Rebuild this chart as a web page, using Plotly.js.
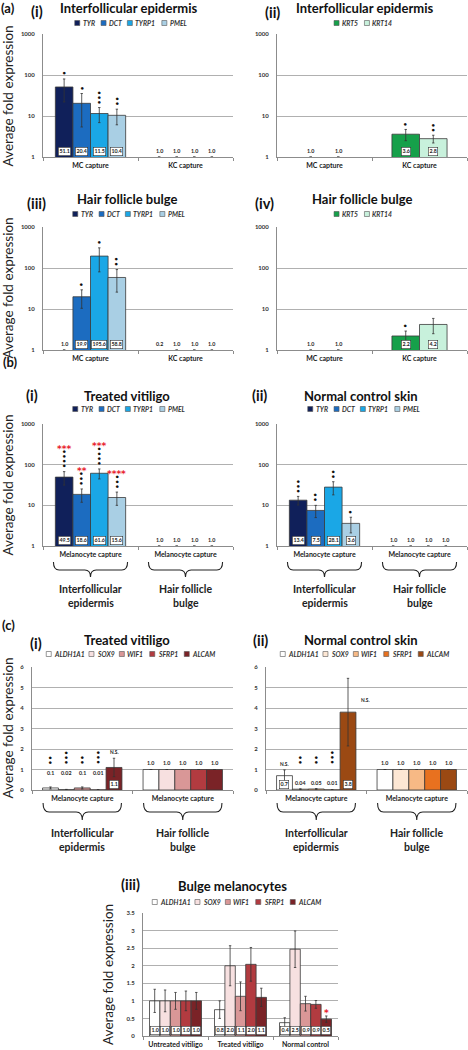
<!DOCTYPE html>
<html><head><meta charset="utf-8">
<script src="https://cdn.plot.ly/plotly-3.0.1.min.js"></script>
<style>html,body{margin:0;padding:0;background:#fff}</style>
</head><body><div id="chart" style="width:468px;height:1050px"></div>
<script>
// ================= DATA =================
const melanocyteGenes = ['TYR','DCT','TYRP1','PMEL'];
const keratinocyteGenes = ['KRT5','KRT14'];
const stemGenes = ['ALDH1A1','SOX9','WIF1','SFRP1','ALCAM'];
const captureTypes = ['MC capture','KC capture'];
const melCaptureCats = ['Melanocyte capture','Melanocyte capture'];
const skinSites = [['Interfollicular','epidermis'],['Hair follicle','bulge']];
const bulgeGroups = ['Untreated vitiligo','Treated vitiligo','Normal control'];

// (a)(i) Interfollicular epidermis – melanocyte genes [MC, KC]
const a1Values = [[51.1,1.0],[20.4,1.0],[11.5,1.0],[10.4,1.0]];
const a1Errors = [[29,0],[15,0],[4.6,0],[4.3,0]];
const a1Labels = [['51.1','1.0'],['20.4','1.0'],['11.5','1.0'],['10.4','1.0']];
const a1Marks  = [[1,0],[1,0],[3,0],[2,0]];
// (a)(ii) Interfollicular epidermis – keratinocyte genes
const a2Values = [[1.0,3.6],[1.0,2.8]];
const a2Errors = [[0,1.1],[0,0.6]];
const a2Labels = [['1.0','3.6'],['1.0','2.8']];
const a2Marks  = [[0,1],[0,2]];
// (a)(iii) Hair follicle bulge – melanocyte genes
const a3Values = [[1.0,0.2],[19.9,1.0],[195.6,1.0],[58.8,1.0]];
const a3Errors = [[0,0],[9.5,0],[115,0],[33,0]];
const a3Labels = [['1.0','0.2'],['19.9','1.0'],['195.6','1.0'],['58.8','1.0']];
const a3Marks  = [[0,0],[1,0],[1,0],[2,0]];
// (a)(iv) Hair follicle bulge – keratinocyte genes
const a4Values = [[1.0,2.2],[1.0,4.2]];
const a4Errors = [[0,0.7],[0,1.7]];
const a4Labels = [['1.0','2.2'],['1.0','4.2']];
const a4Marks  = [[0,1],[0,0]];
// (b)(i) Treated vitiligo
const b1Values = [[49.5,1.0],[18.6,1.0],[61.6,1.0],[15.6,1.0]];
const b1Errors = [[18,0],[6.7,0],[17,0],[5.6,0]];
const b1Labels = [['49.5','1.0'],['18.6','1.0'],['61.6','1.0'],['15.6','1.0']];
const b1Marks  = [[4,0],[3,0],[4,0],[3,0]];
const b1RedMarks = [['***',''],['**',''],['***',''],['****','']];
// (b)(ii) Normal control skin
const b2Values = [[13.4,1.0],[7.5,1.0],[28.1,1.0],[3.6,1.0]];
const b2Errors = [[3.2,0],[2.5,0],[10,0],[1.5,0]];
const b2Labels = [['13.4','1.0'],['7.5','1.0'],['28.1','1.0'],['3.6','1.0']];
const b2Marks  = [[3,0],[2,0],[2,0],[1,0]];
// (c)(i) Treated vitiligo – stem cell markers
const c1Values = [[0.1,1.0],[0.02,1.0],[0.1,1.0],[0.01,1.0],[1.1,1.0]];
const c1Errors = [[0.05,0],[0.01,0],[0.05,0],[0.005,0],[0.45,0]];
const c1Labels = [['0.1','1.0'],['0.02','1.0'],['0.1','1.0'],['0.01','1.0'],['1.1','1.0']];
const c1Marks  = [[2,0],[3,0],[2,0],[3,0],['N.S.',0]];
// (c)(ii) Normal control skin – stem cell markers
const c2Values = [[0.7,1.0],[0.04,1.0],[0.05,1.0],[0.01,1.0],[3.8,1.0]];
const c2Errors = [[0.28,0],[0.02,0],[0.02,0],[0.005,0],[1.65,0]];
const c2Labels = [['0.7','1.0'],['0.04','1.0'],['0.05','1.0'],['0.01','1.0'],['3.8','1.0']];
const c2Marks  = [['N.S.',0],[2,0],[2,0],[3,0],['N.S.',0]];
// (c)(iii) Bulge melanocytes [untreated, treated, normal]
const c3Values = [[1.0,0.75,0.38],[1.0,2.0,2.47],[1.0,1.13,0.92],[1.0,2.04,0.9],[1.0,1.1,0.48]];
const c3Errors = [[0.33,0.25,0.14],[0.31,0.57,0.52],[0.24,0.41,0.21],[0.28,0.48,0.11],[0.24,0.26,0.09]];
const c3Labels = [['1.0','0.8','0.4'],['1.0','2.0','2.5'],['1.0','1.1','0.9'],['1.0','2.0','0.9'],['1.0','1.1','0.5']];
const c3RedMarks = [['','',''],['','',''],['','',''],['','',''],['','','*']];

// ================= STYLE =================
const BLUES = ['#10205a','#1c6cc0','#1aa7e6','#a9cfe4'];
const GREENS = ['#16a04a','#c8f1dc'];
const REDS = ['#ffffff','#f7e0e0','#d99797','#b23b40','#7a2327'];
const ORANGES = ['#ffffff','#fde7d4','#f7b985','#e8711f','#9b4913'];
const W = 468, H = 1050;
const FONT = 'Lato, "Open Sans", sans-serif';
const DOTFONT = '"DejaVu Sans", sans-serif';
const px = x => x / W, py = y => 1 - y / H;

const panels = [
 {id:1, x:[43,233], y:[34,157], log:true, genes:melanocyteGenes, cats:captureTypes, v:a1Values, e:a1Errors, l:a1Labels, m:a1Marks, colors:BLUES, gap:0.26,
  tag:['(a)',8,8], sub:['(i)',37,11], title:['Interfollicular epidermis',128,8], legend:[130,23], ytitle:[7.5,96]},
 {id:2, x:[277,467], y:[34,157], log:true, genes:keratinocyteGenes, cats:captureTypes, v:a2Values, e:a2Errors, l:a2Labels, m:a2Marks, colors:GREENS, gap:0.42,
  sub:['(ii)',272,12], title:['Interfollicular epidermis',364,8], legend:[363,23]},
 {id:3, x:[43,233], y:[227,350], log:true, genes:melanocyteGenes, cats:captureTypes, v:a3Values, e:a3Errors, l:a3Labels, m:a3Marks, colors:BLUES, gap:0.26,
  sub:['(iii)',36,203], title:['Hair follicle bulge',127,199], legend:[128,214], ytitle:[7.5,288]},
 {id:4, x:[277,467], y:[227,350], log:true, genes:keratinocyteGenes, cats:captureTypes, v:a4Values, e:a4Errors, l:a4Labels, m:a4Marks, colors:GREENS, gap:0.42,
  sub:['(iv)',264,203], title:['Hair follicle bulge',362,199], legend:[363,214]},
 {id:5, x:[43,233], y:[424,546], log:true, genes:melanocyteGenes, cats:melCaptureCats, v:b1Values, e:b1Errors, l:b1Labels, m:b1Marks, red:b1RedMarks, colors:BLUES, gap:0.26,
  tag:['(b)',10,362], sub:['(i)',32,395], title:['Treated vitiligo',127,396], legend:[128,409], ytitle:[7.5,485], brace:[562,570,577,589,603]},
 {id:6, x:[277,467], y:[424,546], log:true, genes:melanocyteGenes, cats:melCaptureCats, v:b2Values, e:b2Errors, l:b2Labels, m:b2Marks, colors:BLUES, gap:0.26,
  sub:['(ii)',259,395], title:['Normal control skin',361,396], legend:[363,409], brace:[562,570,577,589,603]},
 {id:7, x:[32,233], y:[667,790], log:false, ymax:6, dtick:1, genes:stemGenes, cats:melCaptureCats, v:c1Values, e:c1Errors, l:c1Labels, m:c1Marks, colors:REDS, gap:0.21,
  stem:true, smallY:0.6, markFloor:1.1, tag:['(c)',8,625], sub:['(i)',36,643], title:['Treated vitiligo',127,640], legend:[129,654], ytitle:[7.5,728], brace:[803,812,820,833,847]},
 {id:8, x:[266,467], y:[667,790], log:false, ymax:6, dtick:1, genes:stemGenes, cats:melCaptureCats, v:c2Values, e:c2Errors, l:c2Labels, m:c2Marks, colors:ORANGES, gap:0.21,
  stem:true, smallY:0.08, markFloor:1.1, nsSide:[4,0], sub:['(ii)',260,640], title:['Normal control skin',361,640], legend:[363,654], brace:[803,812,820,833,847]},
 {id:9, x:[143,338], y:[913,1036], log:false, ymax:3.5, dtick:0.5, genes:stemGenes, cats:bulgeGroups, v:c3Values, e:c3Errors, l:c3Labels, red:c3RedMarks, colors:REDS, gap:0.2,
  inbar:true, sub:['(iii)',130,884], title:['Bulge melanocytes',232,886], legend:[235,902], ytitle:[108,975]}
];

const data = [], annotations = [], shapes = [];
const layout = {width:W, height:H, margin:{l:0,r:0,t:0,b:0}, paper_bgcolor:'#fff', plot_bgcolor:'#fff',
  showlegend:false, barmode:'overlay', annotations, shapes, font:{family:FONT}};

function ann(o){ annotations.push(Object.assign({showarrow:false, borderpad:1}, o)); }
function pann(text, x, y, size, extra){ ann(Object.assign({xref:'paper', yref:'paper', x:px(x), y:py(y), xanchor:'center', yanchor:'middle', text, font:{family:FONT, size, color:'#111'}}, extra||{})); }

function addLegend(cx, cy, genes, colors){
  const cw = 4.1, sw = 5, sg = 2, ig = 7;
  const widths = genes.map(g => sw + sg + g.length * cw);
  const total = widths.reduce((a,b)=>a+b,0) + ig*(genes.length-1);
  let x = cx - total/2;
  genes.forEach((g,k) => {
    shapes.push({type:'rect', xref:'paper', yref:'paper', x0:px(x), x1:px(x+sw), y0:py(cy+sw/2), y1:py(cy-sw/2),
      fillcolor:colors[k], line:{color:'#555', width:0.6}});
    ann({xref:'paper', yref:'paper', x:px(x+sw+sg-1), y:py(cy), xanchor:'left', yanchor:'middle', text:'<b><i>'+g+'</i></b>',
      font:{family:FONT, size:6.8, color:'#333'}});
    x += widths[k] + ig;
  });
}

function bracePath(c, h, yt, ym, yb){
  const r = 0.06;
  return `M${c-h},${yt} Q${c-h},${ym} ${c-h+r},${ym} L${c-r},${ym} Q${c},${ym} ${c},${yb} Q${c},${ym} ${c+r},${ym} L${c+h-r},${ym} Q${c+h},${ym} ${c+h},${yt}`;
}

panels.forEach(p => {
  const xa = p.id===1 ? 'xaxis' : 'xaxis'+p.id, ya = p.id===1 ? 'yaxis' : 'yaxis'+p.id;
  const xr = p.id===1 ? 'x' : 'x'+p.id, yr = p.id===1 ? 'y' : 'y'+p.id;
  const nc = p.cats.length, ng = p.genes.length;
  const idx = p.cats.map((_,i)=>i);
  layout[xa] = {domain:[px(p.x[0]), px(p.x[1])], anchor:yr, range:[-0.5, nc-0.5], tickmode:'array', tickvals:idx, ticktext:p.cats,
    ticks:'', showgrid:false, zeroline:false, showline:true, linecolor:'#8c8c8c', linewidth:1, ticklabelstandoff:2,
    tickfont:{family:FONT, size:7, weight:'bold', color:'#222'},
    minor:{tickmode:'linear', tick0:0.5, dtick:1, ticks:'outside', ticklen:3, tickcolor:'#8c8c8c', showgrid:false}, fixedrange:true};
  layout[ya] = {domain:[py(p.y[1]), py(p.y[0])], anchor:xr, type:p.log?'log':'linear', range:p.log?[0,3.001]:[0,p.ymax*1.0005],
    dtick:p.log?1:p.dtick, tick0:0, exponentformat:'none', showgrid:true, gridcolor:'#b0b0b0', gridwidth:1, zeroline:false,
    showline:true, linecolor:'#8c8c8c', linewidth:1, ticks:'', ticklabelstandoff:6,
    tickfont:{family:FONT, size:6, weight:'bold', color:'#333'}, fixedrange:true};

  const w = (1 - p.gap) / ng;
  const Y = v => p.log ? Math.log10(v) : v;
  p.genes.forEach((g,j) => {
    const off = -(1 - p.gap)/2 + j*w;
    const lineW = p.v[j].map(v => (p.log && v <= 1) ? 0 : 0.8);
    data.push({type:'bar', name:g, x:idx, y:p.v[j], width:w, offset:off, xaxis:xr, yaxis:yr, hoverinfo:'skip',
      marker:{color:p.colors[j], line:{color:'#3a3a3a', width:lineW}},
      error_y:{type:'data', array:p.e[j], visible:true, color:'#333', thickness:0.8, width:1.2}});
    idx.forEach(i => {
      const cx = i + off + w/2, val = p.v[j][i], top = val + p.e[j][i];
      const boxed = {bgcolor:'#fff', bordercolor:'#333', borderwidth:0.6, borderpad:0.8};
      const lf = {family:FONT, size:5.3, weight:'bold', color:'#222'};
      let la = {xref:xr, yref:yr, x:cx, text:p.l[j][i], font:lf, xanchor:'center'};
      if (p.log) {
        Object.assign(la, {y:0, yanchor:'bottom', yshift:1.5}, val >= 2 ? boxed : {});
      } else if (p.inbar) {
        Object.assign(la, {y:0, yanchor:'bottom', yshift:1}, boxed);
      } else if (i === 0) {
        if (val >= 0.5) Object.assign(la, {y:0, yanchor:'bottom', yshift:1}, boxed);
        else Object.assign(la, {y:p.smallY, yanchor:'bottom'});
      } else {
        Object.assign(la, {y:val, yanchor:'bottom', yshift:2});
      }
      ann(la);
      // significance marks
      const mk = p.m ? p.m[j][i] : 0;
      const base = p.markFloor ? Math.max(top, p.markFloor) : top;
      let stackH = 0;
      if (typeof mk === 'number' && mk > 0) {
        ann({xref:xr, yref:yr, x:cx, y:Y(base), yanchor:'bottom', xanchor:'center', yshift:2, textangle:-90, borderpad:0,
          text:'•'.repeat(mk), font:{family:DOTFONT, size:7.5, weight:'bold', color:'#111'}});
        stackH = mk * 4.4 + 2;
      } else if (mk === 'N.S.') {
        if (p.nsSide && p.nsSide[0]===j && p.nsSide[1]===i) {
          ann({xref:xr, yref:yr, x:cx + w*0.5, y:val + 0.35*p.e[j][i], xanchor:'left', yanchor:'middle', xshift:3, text:'N.S.',
            font:{family:FONT, size:4.8, weight:'bold', color:'#222'}});
        } else {
          ann({xref:xr, yref:yr, x:cx, y:Y(top), yanchor:'bottom', xanchor:'center', yshift:1, text:'N.S.',
            font:{family:FONT, size:4.8, weight:'bold', color:'#222'}});
        }
      }
      const rm = p.red ? p.red[j][i] : '';
      if (rm) {
        ann({xref:xr, yref:yr, x:cx, y:Y(top), yanchor:'bottom', xanchor:'center', yshift:stackH - 3, borderpad:0, text:'<b>'+rm+'</b>',
          font:{family:DOTFONT, size:9, color:'#e8202a'}});
      }
    });
  });

  // titles and labels
  if (p.tag) pann('<b>'+p.tag[0]+'</b>', p.tag[1], p.tag[2], 13);
  pann('<b>'+p.sub[0]+'</b>', p.sub[1], p.sub[2], 14.5);
  pann('<b>'+p.title[0]+'</b>', p.title[1], p.title[2], 13);
  addLegend(p.legend[0], p.legend[1], p.genes, p.colors);
  if (p.ytitle) pann('Average fold expression', p.ytitle[0], p.ytitle[1], 13.5, {textangle:-90, font:{family:FONT, size:13.5, color:'#222'}});
  if (p.brace) {
    const [yt, ym, yb, l1, l2] = p.brace;
    idx.forEach(i => {
      shapes.push({type:'path', xref:xr, yref:'paper', path:bracePath(i, 0.39, py(yt), py(ym), py(yb)), line:{color:'#222', width:1.1}});
      ann({xref:xr, yref:'paper', x:i, y:py(l1), xanchor:'center', yanchor:'middle', text:'<b>'+skinSites[i][0]+'</b>', font:{family:FONT, size:10.5, color:'#222'}});
      ann({xref:xr, yref:'paper', x:i, y:py(l2), xanchor:'center', yanchor:'middle', text:'<b>'+skinSites[i][1]+'</b>', font:{family:FONT, size:10.5, color:'#222'}});
    });
  }
});

Plotly.newPlot('chart', data, layout, {displayModeBar:false, staticPlot:true});
</script></body></html>
